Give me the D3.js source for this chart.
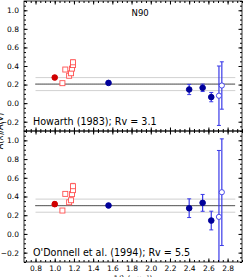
<!DOCTYPE html>
<html>
<head>
<meta charset="utf-8">
<script src="https://cdn.jsdelivr.net/npm/d3@7"></script>
<style>
  body { margin: 0; background: #fff; }
  .axis path, .axis line { stroke: #000; }
  text { font-family: "DejaVu Sans", sans-serif; }
</style>
</head>
<body>
<div id="chart"></div>
<script>
// x values (1/lambda) shared by both panels
var redFilledX = [1.0];
var redOpenX = [1.08, 1.11, 1.15, 1.17, 1.18, 1.19, 1.19];
var blueFilledX = [1.56, 2.40, 2.54, 2.63];
var blueOpenX = [2.71, 2.74];

// Howarth (1983); Rv = 3.1
var howRedFilled = [0.276], howRedFilledErr = [0.02];
var howRedOpen = [0.215, 0.362, 0.295, 0.322, 0.372, 0.41, 0.44];
var howRedOpenErr = [0.015, 0.015, 0.015, 0.015, 0.02, 0.02, 0.025];
var howBlueFilled = [0.218, 0.147, 0.165, 0.065], howBlueFilledErr = [0.015, 0.055, 0.04, 0.05];
var howBlueOpen = [0.08, 0.19], howBlueOpenErr = [0.32, 0.255];
var howMean = 0.205, howSpread = 0.07;

// O'Donnell et al. (1994); Rv = 5.5
var odRedFilled = [0.318], odRedFilledErr = [0.025];
var odRedOpen = [0.25, 0.428, 0.338, 0.36, 0.425, 0.468, 0.51];
var odRedOpenErr = [0.015, 0.015, 0.02, 0.02, 0.02, 0.025, 0.03];
var odBlueFilled = [0.304, 0.275, 0.332, 0.143], odBlueFilledErr = [0.02, 0.1, 0.09, 0.1];
var odBlueOpen = [0.182, 0.446], odBlueOpenErr = [0.71, 0.57];
var odMean = 0.302, odSpread = 0.07;

var xTicks = [0.8, 1.0, 1.2, 1.4, 1.6, 1.8, 2.0, 2.2, 2.4, 2.6, 2.8];
var yTicks = [-0.2, 0.0, 0.2, 0.4, 0.6, 0.8, 1.0];

var W = 252, H = 277;
var left = 24, right = 242;
var svg = d3.select("#chart").append("svg").attr("width", W).attr("height", H);

var x = d3.scaleLinear().domain([0.68, 2.95]).range([left, right]);

function fmt(d) { return d3.format(".1f")(d).replace("-", "\u2212"); }

function panel(top, bottom, label, d) {
  var y = d3.scaleLinear().domain([-0.3, 1.1]).range([bottom, top]);
  var g = svg.append("g");
  var clipId = "clip" + top;
  svg.append("clipPath").attr("id", clipId).append("rect")
    .attr("x", left).attr("y", top).attr("width", right - left).attr("height", bottom - top);
  var plot = g.append("g").attr("clip-path", "url(#" + clipId + ")");

  // reference lines
  [d.mean - d.spread, d.mean + d.spread].forEach(function(v) {
    plot.append("line").attr("x1", x(0.8)).attr("x2", x(2.88))
      .attr("y1", y(v)).attr("y2", y(v)).attr("stroke", "#c4c4c4").attr("stroke-width", 0.8);
  });
  plot.append("line").attr("x1", x(0.8)).attr("x2", x(2.88))
    .attr("y1", y(d.mean)).attr("y2", y(d.mean)).attr("stroke", "#a0a0a0").attr("stroke-width", 0.8);
  plot.append("line").attr("x1", x(0.8)).attr("x2", x(2.88))
    .attr("y1", y(d.mean)).attr("y2", y(d.mean)).attr("stroke", "#000")
    .attr("stroke-width", 1).attr("stroke-dasharray", "1,1");

  function errs(xs, ys, es, color) {
    xs.forEach(function(xv, i) {
      var x0 = x(xv), y1 = y(ys[i] - es[i]), y2 = y(ys[i] + es[i]);
      plot.append("line").attr("x1", x0).attr("x2", x0).attr("y1", y1).attr("y2", y2)
        .attr("stroke", color).attr("stroke-width", 1.2);
      [y1, y2].forEach(function(yy) {
        plot.append("line").attr("x1", x0 - 2).attr("x2", x0 + 2).attr("y1", yy).attr("y2", yy)
          .attr("stroke", color).attr("stroke-width", 1);
      });
    });
  }

  errs(d.rfx, d.rf, d.rfe, "#e02020");
  errs(d.rox, d.ro, d.roe, "#ff6060");
  errs(d.bfx, d.bf, d.bfe, "#3a3ae8");
  errs(d.box, d.bo, d.boe, "#3a3ae8");

  d.rfx.forEach(function(xv, i) {
    plot.append("circle").attr("cx", x(xv)).attr("cy", y(d.rf[i])).attr("r", 2.8)
      .attr("fill", "#d00000").attr("stroke", "#d00000");
  });
  d.rox.forEach(function(xv, i) {
    plot.append("rect").attr("x", x(xv) - 2.5).attr("y", y(d.ro[i]) - 2.5)
      .attr("width", 5).attr("height", 5).attr("fill", "#fff")
      .attr("stroke", "#ff5050").attr("stroke-width", 0.9);
  });
  d.bfx.forEach(function(xv, i) {
    plot.append("circle").attr("cx", x(xv)).attr("cy", y(d.bf[i])).attr("r", 2.8)
      .attr("fill", "#00009a").attr("stroke", "#00009a");
  });
  d.box.forEach(function(xv, i) {
    plot.append("circle").attr("cx", x(xv)).attr("cy", y(d.bo[i])).attr("r", 2.6)
      .attr("fill", "#fff").attr("stroke", "#3a3ae8").attr("stroke-width", 0.9);
  });

  // axes, ticks inward on all sides
  var minorX = d3.range(0.7, 2.9501, 0.05);
  var minorY = d3.range(-0.3, 1.1001, 0.05);
  g.append("g").attr("transform", "translate(0," + bottom + ")")
    .call(d3.axisBottom(x).tickValues(minorX).tickSize(-2).tickFormat(""))
    .call(function(s) { s.select(".domain").remove(); });
  g.append("g").attr("transform", "translate(0," + top + ")")
    .call(d3.axisTop(x).tickValues(minorX).tickSize(-2).tickFormat(""))
    .call(function(s) { s.select(".domain").remove(); });
  g.append("g").attr("transform", "translate(" + left + ",0)")
    .call(d3.axisLeft(y).tickValues(minorY).tickSize(-2).tickFormat(""))
    .call(function(s) { s.select(".domain").remove(); });
  g.append("g").attr("transform", "translate(" + right + ",0)")
    .call(d3.axisRight(y).tickValues(minorY).tickSize(-2).tickFormat(""))
    .call(function(s) { s.select(".domain").remove(); });

  var xb = g.append("g").attr("class", "axis").attr("transform", "translate(0," + bottom + ")")
    .call(d3.axisBottom(x).tickValues(xTicks).tickSize(-3.5).tickPadding(3.5).tickFormat(fmt));
  xb.select(".domain").remove();
  xb.selectAll("text").attr("font-size", 7.5).attr("fill", "#000");
  if (!d.showX) xb.selectAll("text").remove();
  g.append("g").attr("transform", "translate(0," + top + ")")
    .call(d3.axisTop(x).tickValues(xTicks).tickSize(-3.5).tickFormat(""))
    .call(function(s) { s.select(".domain").remove(); });
  var yl = g.append("g").attr("transform", "translate(" + left + ",0)")
    .call(d3.axisLeft(y).tickValues(yTicks).tickSize(-3.5).tickPadding(5).tickFormat(fmt));
  yl.select(".domain").remove();
  yl.selectAll("text").attr("font-size", 7.5).attr("fill", "#000");
  g.append("g").attr("transform", "translate(" + right + ",0)")
    .call(d3.axisRight(y).tickValues(yTicks).tickSize(-3.5).tickFormat(""))
    .call(function(s) { s.select(".domain").remove(); });

  g.append("rect").attr("x", left).attr("y", top).attr("width", right - left)
    .attr("height", bottom - top).attr("fill", "none").attr("stroke", "#000").attr("stroke-width", 0.8);

  g.append("text").attr("x", left + 9).attr("y", y(-0.2) + 3.5)
    .attr("font-size", 9.6).text(label);
  if (d.title) {
    g.append("text").attr("x", x(1.89)).attr("y", top + 15)
      .attr("font-size", 8.5).attr("text-anchor", "middle").text(d.title);
  }
}

panel(1, 131, "Howarth (1983); Rv = 3.1", {
  rfx: redFilledX, rf: howRedFilled, rfe: howRedFilledErr,
  rox: redOpenX, ro: howRedOpen, roe: howRedOpenErr,
  bfx: blueFilledX, bf: howBlueFilled, bfe: howBlueFilledErr,
  box: blueOpenX, bo: howBlueOpen, boe: howBlueOpenErr,
  mean: howMean, spread: howSpread, showX: false, title: "N90"
});
panel(131, 262, "O'Donnell et al. (1994); Rv = 5.5", {
  rfx: redFilledX, rf: odRedFilled, rfe: odRedFilledErr,
  rox: redOpenX, ro: odRedOpen, roe: odRedOpenErr,
  bfx: blueFilledX, bf: odBlueFilled, bfe: odBlueFilledErr,
  box: blueOpenX, bo: odBlueOpen, boe: odBlueOpenErr,
  mean: odMean, spread: odSpread, showX: true
});

svg.append("text").attr("x", (left + right) / 2).attr("y", 280.5)
  .attr("font-size", 7.5).attr("text-anchor", "middle").text("1/\u03bb (\u03bcm\u207b\u00b9)");
svg.append("text").attr("transform", "translate(3,131) rotate(-90)")
  .attr("font-size", 8).attr("text-anchor", "middle").text("A(\u03bb)/A(V)");
</script>
</body>
</html>
